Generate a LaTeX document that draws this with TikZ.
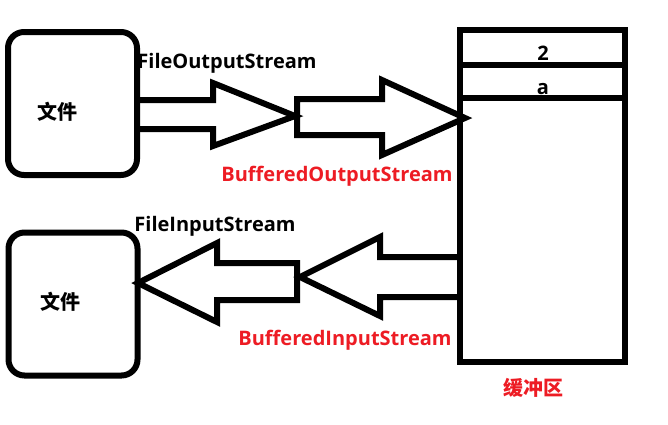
\documentclass[tikz,border=0pt]{standalone}
\usepackage{fontspec}
\setmainfont{Open Sans}
\newfontfamily\cjk{Noto Sans CJK SC}
\definecolor{myred}{RGB}{237,28,36}
\tikzset{
  outline/.style={line width=6pt, draw=black, line join=miter},
  filebox/.style={outline, rounded corners=16pt, minimum width=129pt, minimum height=143pt, inner sep=0pt},
  lbl/.style={font=\fontsize{20}{24}\selectfont\bfseries, inner sep=0pt},
  redlbl/.style={lbl, text=myred},
  cjklbl/.style={font=\cjk\fontsize{20}{24}\selectfont\bfseries, inner sep=0pt},
}
\begin{document}
\begin{tikzpicture}[x=1pt, y=-1pt]
\useasboundingbox (0,0) rectangle (668,424);
% file boxes
\node[filebox] (file1) at (72.5,103.5) {};
\node[filebox] (file2) at (73,304) {};
\node[cjklbl] (t1) at (57,112) {文件};
\node[cjklbl] (t2) at (60,302) {文件};
% buffer
\node[outline, minimum width=165pt, minimum height=332pt, inner sep=0pt] (buf) at (542.5,196) {};
\draw[outline] (460,65) -- (625,65);
\draw[outline] (460,98) -- (628,98);
\node[lbl] (v2) at (543,53) {2};
\node[lbl] (va) at (543,89) {a};
\node[cjklbl, text=myred] (bl) at (533,388) {缓冲区};
% output arrows
\draw[outline] (137,100) -- (213,100) -- (213,83) -- (295,116) -- (213,146) -- (213,129) -- (137,129);
\draw[outline] (297,99) -- (382,99) -- (382,80) -- (465,118) -- (382,155) -- (382,135) -- (297,135) -- cycle;
% input arrows
\draw[outline] (460,257) -- (380,257) -- (380,237) -- (300,277) -- (380,316) -- (380,297) -- (460,297);
\draw[outline] (297,263) -- (217,263) -- (217,243) -- (138,283) -- (217,322) -- (217,300) -- (297,300) -- cycle;
% labels
\node[lbl] (fos) at (227,63) {FileOutputStream};
\node[redlbl] (bos) at (337,176) {BufferedOutputStream};
\node[lbl] (fis) at (215,226) {FileInputStream};
\node[redlbl] (bis) at (345,340) {BufferedInputStream};
\end{tikzpicture}
\end{document}
